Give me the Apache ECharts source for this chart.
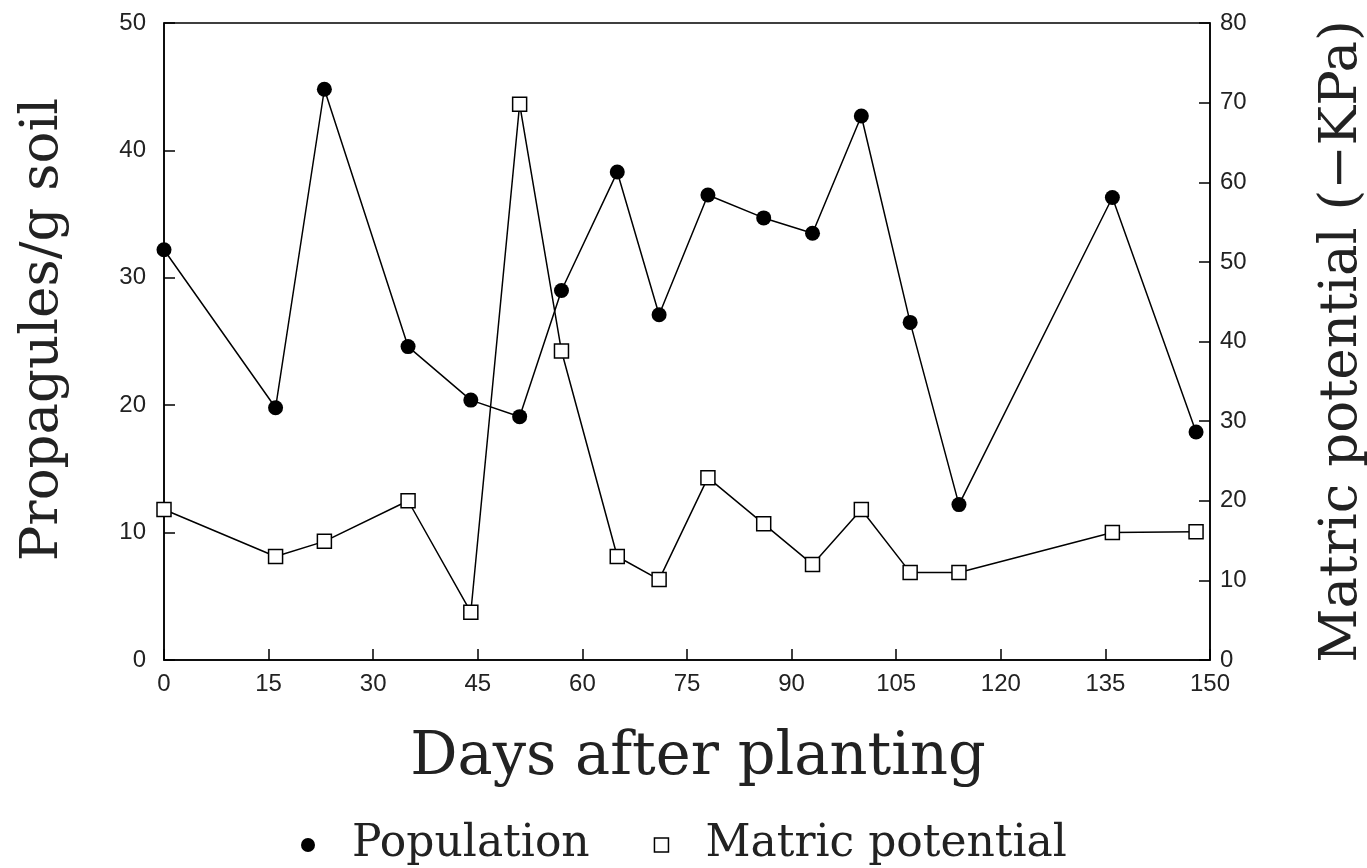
<!DOCTYPE html>
<html>
<head>
<meta charset="utf-8">
<script src="https://cdn.jsdelivr.net/npm/echarts@6/dist/echarts.min.js"></script>
<style>
html,body{margin:0;padding:0;background:#fff;}
#chart{width:1367px;height:868px;}
</style>
</head>
<body>
<div id="chart"></div>
<script>
// Days after planting
var popDays = [0, 16, 23, 35, 44, 51, 57, 65, 71, 78, 86, 93, 100, 107, 114, 136, 148];
// Propagules/g soil
var popValues = [32.2, 19.8, 44.8, 24.6, 20.4, 19.1, 29.0, 38.3, 27.1, 36.5, 34.7, 33.5, 42.7, 26.5, 12.2, 36.3, 17.9];
var matDays = [0, 16, 23, 35, 44, 51, 57, 65, 71, 78, 86, 93, 100, 107, 114, 136, 148];
// Matric potential (-KPa)
var matValues = [18.9, 13.0, 14.9, 20.0, 6.0, 69.8, 38.8, 13.0, 10.1, 22.9, 17.1, 12.0, 18.9, 11.0, 11.0, 16.0, 16.1];

var seriesNames = ['Population', 'Matric potential'];
var xTitle = 'Days after planting';
var yLeftTitle = 'Propagules/g soil';
var yRightTitle = 'Matric potential (\u2212KPa)';

function pairs(xs, ys) { return xs.map(function (x, i) { return [x, ys[i]]; }); }

var titleFont = 'DejaVu Serif';
var tickFont = 'Liberation Sans';
var axisLine = { show: true, lineStyle: { color: '#000', width: 1.5 } };
var tick = { show: true, inside: true, length: 11, lineStyle: { color: '#000', width: 1.5 } };

var chart = echarts.init(document.getElementById('chart'), null, { renderer: 'canvas' });
chart.setOption({
  backgroundColor: '#fff',
  animation: false,
  grid: {
    left: 164, right: 157, top: 23, bottom: 208,
    containLabel: false, outerBoundsMode: 'none',
    show: true, borderColor: '#000', borderWidth: 1.5, backgroundColor: 'transparent'
  },
  legend: {
    left: 296, top: 818, itemGap: 64, itemWidth: 14, itemHeight: 14,
    textStyle: { fontFamily: titleFont, fontSize: 44, color: '#222', padding: [0, 0, 0, 32] },
    data: [
      { name: seriesNames[0], icon: 'circle', itemStyle: { color: '#000' } },
      { name: seriesNames[1], icon: 'rect', itemStyle: { color: '#fff', borderColor: '#000', borderWidth: 1.5 } }
    ]
  },
  xAxis: {
    type: 'value', min: 0, max: 150, interval: 15,
    name: xTitle, nameLocation: 'middle', nameGap: 69,
    nameTextStyle: { fontFamily: titleFont, fontSize: 59, color: '#222', padding: [0, 0, 0, 22] },
    axisLine: axisLine,
    axisTick: tick,
    axisLabel: { fontFamily: tickFont, fontSize: 24, color: '#222', margin: 12 },
    splitLine: { show: false }
  },
  yAxis: [
    {
      type: 'value', min: 0, max: 50, interval: 10, position: 'left',
      name: yLeftTitle, nameLocation: 'middle', nameGap: 94, nameRotate: 90,
      nameTextStyle: { fontFamily: titleFont, fontSize: 53, color: '#222', padding: [0, 0, 0, 24] },
      axisLine: axisLine,
      axisTick: tick,
      axisLabel: { fontFamily: tickFont, fontSize: 24, color: '#222', margin: 18 },
      splitLine: { show: false }
    },
    {
      type: 'value', min: 0, max: 80, interval: 10, position: 'right',
      name: yRightTitle, nameLocation: 'middle', nameGap: 106, nameRotate: 90,
      nameTextStyle: { fontFamily: titleFont, fontSize: 53, color: '#222' },
      axisLine: axisLine,
      axisTick: tick,
      axisLabel: { fontFamily: tickFont, fontSize: 24, color: '#222', margin: 10 },
      splitLine: { show: false }
    }
  ],
  series: [
    {
      name: seriesNames[0], type: 'line', yAxisIndex: 0,
      data: pairs(popDays, popValues),
      symbol: 'circle', symbolSize: 15,
      itemStyle: { color: '#000' },
      lineStyle: { color: '#000', width: 1.5 },
      z: 3
    },
    {
      name: seriesNames[1], type: 'line', yAxisIndex: 1,
      data: pairs(matDays, matValues),
      symbol: 'rect', symbolSize: 14,
      itemStyle: { color: '#fff', borderColor: '#000', borderWidth: 1.5 },
      lineStyle: { color: '#000', width: 1.5 },
      z: 2
    }
  ]
});
</script>
</body>
</html>
